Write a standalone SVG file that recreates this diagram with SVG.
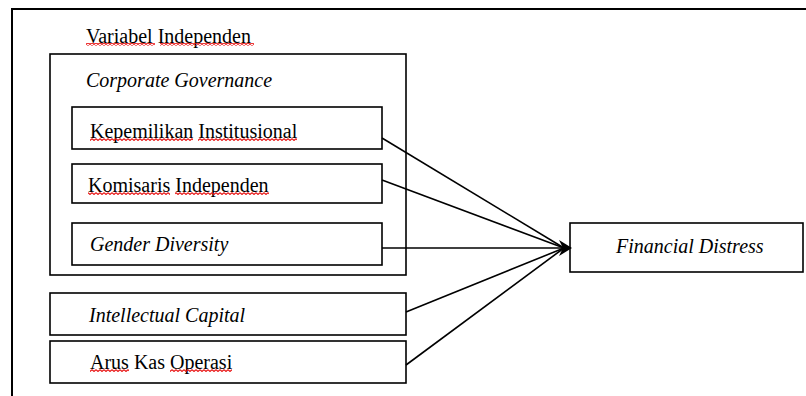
<svg xmlns="http://www.w3.org/2000/svg" width="806" height="396" viewBox="0 0 806 396">
<defs>
<pattern id="sq" width="4" height="3" patternUnits="userSpaceOnUse">
<path d="M0,0.6 L2,2.4 L4,0.6" fill="none" stroke="#e81010" stroke-width="1.2"/>
</pattern>
</defs>
<style>
.box{fill:#fff;stroke:#000;stroke-width:1.6}
.t{font-family:"Liberation Serif","Times New Roman",serif;font-size:20px;fill:#000}
.i{font-style:italic}
.sq{fill:url(#sq)}
.c{stroke:#000;stroke-width:1.6;fill:none}
</style>
<rect width="806" height="396" fill="#fff"/>
<path d="M12,396 V9 H806" fill="none" stroke="#000" stroke-width="2"/>
<g id="title">
<text class="t" x="86" y="43">Variabel Independen</text>
<rect class="sq" x="86" y="43" width="69" height="3"/>
<rect class="sq" x="160" y="43" width="94" height="3"/>
</g>
<g id="corporate-governance">
<rect class="box" x="50" y="54" width="356" height="221"/>
<text class="t i" x="86" y="87">Corporate Governance</text>
</g>
<g id="kepemilikan">
<rect class="box" x="72" y="107" width="310" height="42"/>
<text class="t" x="90" y="138">Kepemilikan Institusional</text>
<rect class="sq" x="90" y="138" width="103" height="3"/>
<rect class="sq" x="198" y="138" width="99" height="3"/>
</g>
<g id="komisaris">
<rect class="box" x="72" y="164" width="310" height="39"/>
<text class="t" x="88" y="192">Komisaris Independen</text>
<rect class="sq" x="88" y="192" width="82" height="3"/>
<rect class="sq" x="175" y="192" width="94" height="3"/>
</g>
<g id="gender">
<rect class="box" x="72" y="223" width="310" height="42"/>
<text class="t i" x="90" y="251">Gender Diversity</text>
</g>
<g id="intellectual">
<rect class="box" x="50" y="293" width="356" height="42"/>
<text class="t i" x="89" y="322">Intellectual Capital</text>
</g>
<g id="arus">
<rect class="box" x="50" y="341" width="356" height="42"/>
<text class="t" x="90" y="369">Arus Kas Operasi</text>
<rect class="sq" x="90" y="369" width="39" height="3"/>
<rect class="sq" x="170" y="369" width="62" height="3"/>
</g>
<g id="financial-distress">
<rect class="box" x="570" y="223" width="233" height="49"/>
<text class="t i" x="616" y="253">Financial Distress</text>
</g>
<g id="connectors">
<line class="c" x1="382" y1="138" x2="564" y2="248"/>
<line class="c" x1="382" y1="180" x2="564" y2="248"/>
<line class="c" x1="382" y1="248" x2="564" y2="248"/>
<line class="c" x1="406" y1="312" x2="564" y2="248"/>
<line class="c" x1="406" y1="365" x2="564" y2="248"/>
<polygon points="572,248 559,240 563,248 559,256" fill="#000"/>
</g>
</svg>
